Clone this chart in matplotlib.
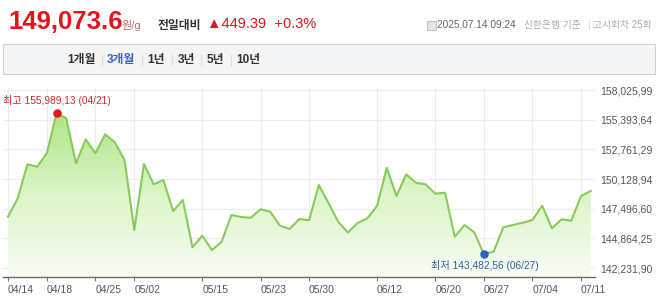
import numpy as np
import matplotlib
matplotlib.use('Agg')
from matplotlib import pyplot
from matplotlib.colors import LinearSegmentedColormap
from matplotlib.patches import Rectangle
from matplotlib.lines import Line2D

pyplot.rcParams['font.family'] = ['Liberation Sans', 'Noto Sans CJK KR', 'DejaVu Sans']

# trading days shown on the 3-month chart
dates = ['04/14', '04/15', '04/16', '04/17', '04/18', '04/21', '04/22', '04/23', '04/24', '04/25',
         '04/28', '04/29', '04/30', '05/02', '05/07', '05/08', '05/09', '05/12', '05/13', '05/14',
         '05/15', '05/16', '05/19', '05/20', '05/21', '05/22', '05/23', '05/26', '05/27', '05/28',
         '05/29', '05/30', '06/02', '06/04', '06/05', '06/09', '06/10', '06/11', '06/12', '06/13',
         '06/16', '06/17', '06/18', '06/19', '06/20', '06/23', '06/24', '06/25', '06/26', '06/27',
         '06/30', '07/01', '07/02', '07/03', '07/04', '07/07', '07/08', '07/09', '07/10', '07/11',
         '07/14']
prices = [146784, 148417, 151433, 151220, 152409, 155989.13, 155515, 151522, 153652, 152409,
          154095, 153385, 151815, 145604, 151460, 149659, 150040, 147290, 148266, 144069,
          145098, 143829, 144566, 146935, 146757, 146695, 147440, 147228, 145985, 145693,
          146580, 146464, 149597, 148000, 146340, 145382, 146225, 146642, 147733, 151132,
          148621, 150546, 149801, 149659, 148825, 148913, 145009, 146047, 145400, 143482.56,
          143678, 145843, 146047, 146251, 146491, 147760, 145755, 146553, 146429, 148621,
          149073.6]
tick_dates = ['04/14', '04/18', '04/25', '05/02', '05/15', '05/23', '05/30', '06/12',
              '06/20', '06/27', '07/04', '07/11']
y_ticks = [142231.90, 144864.25, 147496.60, 150128.94, 152761.29, 155393.64, 158025.99]
y_tick_labels = ['142,231,90', '144,864,25', '147,496,60', '150,128,94',
                 '152,761,29', '155,393,64', '158,025,99']

current_price = '149,073.6'
change_text = '▲449.39  +0.3%'
max_label = '최고 155,989,13 (04/21)'
min_label = '최저 143,482,56 (06/27)'
tabs = ['1개월', '3개월', '1년', '3년', '5년', '10년']

W, H = 658, 304
figure = pyplot.figure(figsize=(W / 100, H / 100), dpi=100)
figure.patch.set_facecolor('white')


def fx(px):
    return px / W


def fy(py):
    return 1 - py / H


# header
figure.text(fx(8), fy(29), current_price, fontsize=18.5, fontweight='bold',
            color='#e3141c', va='baseline', ha='left')
figure.text(fx(122), fy(29), '원/g', fontsize=8, color='#b86a6a', va='baseline')
figure.text(fx(158), fy(28.5), '전일대비', fontsize=8.5, fontweight='bold',
            color='#333333', va='baseline')
figure.text(fx(207), fy(28.5), change_text, fontsize=10.5, color='#e3141c',
            va='baseline')
figure.patches.append(Rectangle((fx(427), fy(30)), fx(9), 9 / H, transform=figure.transFigure,
                                facecolor='#e4e4e4', edgecolor='#b8b8b8', lw=0.6))
figure.text(fx(437), fy(25), '2025.07.14 09:24', fontsize=7.3, color='#666666', va='center')
figure.text(fx(524), fy(25), '신한은행 기준', fontsize=7, color='#aaaaaa', va='center')
figure.text(fx(588), fy(25), '|', fontsize=7, color='#cccccc', va='center', ha='center')
figure.text(fx(593), fy(25), '고시회차 25회', fontsize=7, color='#aaaaaa', va='center')

# period tab bar
figure.patches.append(Rectangle((fx(3), fy(74)), fx(652), 30 / H, transform=figure.transFigure,
                                facecolor='#f4f5f7', edgecolor='#d3d3d3', lw=0.8))
tab_centers = [81, 121, 156.5, 186, 215.5, 248.5]
for name, cx in zip(tabs, tab_centers):
    figure.text(fx(cx), fy(60), name, fontsize=8.5, fontweight='bold', ha='center', va='center',
                color='#3a5fc0' if name == '3개월' else '#333333')
for sx in [102, 142, 172, 201, 231]:
    figure.lines.append(Line2D([fx(sx), fx(sx)], [fy(55), fy(65)], transform=figure.transFigure,
                               color='#dcdcdc', lw=0.8))

# chart
axes = figure.add_axes([fx(3), fy(277), fx(592), 189 / H])
x = np.arange(len(prices))
xmin, xmax = -0.515, 60.44
ymin, ymax = 141433.5, 158203.45

poly = axes.fill_between(x, prices, ymin, facecolor='none', edgecolor='none')
cmap = LinearSegmentedColormap.from_list('fade', ['#f8fdf4', '#dcf5c8', '#aee585'])
gradient = np.linspace(1, 0, 256).reshape(-1, 1)
image = axes.imshow(gradient, cmap=cmap, aspect='auto', origin='upper',
                    extent=[xmin, xmax, ymin, max(prices)], zorder=1)
image.set_clip_path(poly.get_paths()[0], transform=axes.transData)
axes.plot(x, prices, color='#88cb5c', lw=1.5, zorder=3)

i_max = int(np.argmax(prices))
i_min = int(np.argmin(prices))
axes.scatter([i_max], [prices[i_max]], s=26, color='#e8141c', zorder=4)
axes.scatter([i_min], [prices[i_min]], s=26, color='#2a64c0', zorder=4)
axes.annotate(max_label, (i_max, prices[i_max]), xytext=(-54, 12), textcoords='offset pixels',
              fontsize=7.3, color='#cc2a2a', ha='left', va='center')
axes.annotate(min_label, (i_min, prices[i_min]), xytext=(1, -12), textcoords='offset pixels',
              fontsize=7.3, color='#2f5fa8', ha='center', va='center')

axes.set_xlim(xmin, xmax)
axes.set_ylim(ymin, ymax)
axes.set_xticks([dates.index(d) for d in tick_dates])
axes.set_xticklabels(tick_dates, ha='left')
axes.set_yticks(y_ticks)
axes.set_yticklabels(y_tick_labels)
axes.yaxis.tick_right()
axes.tick_params(axis='x', length=3, width=0.8, color='#777777', pad=2.5,
                 labelsize=7.5, labelcolor='#555555')
axes.tick_params(axis='y', length=0, pad=4, labelsize=7.5, labelcolor='#555555')
axes.grid(True, color='#ececec', lw=0.8, zorder=0)
axes.set_axisbelow(True)
for side in ['top', 'left', 'right']:
    axes.spines[side].set_visible(False)
axes.spines['bottom'].set_color('#6a6a6a')
axes.spines['bottom'].set_linewidth(1)
axes.set_facecolor('white')

figure.savefig('out.png', dpi=100)
